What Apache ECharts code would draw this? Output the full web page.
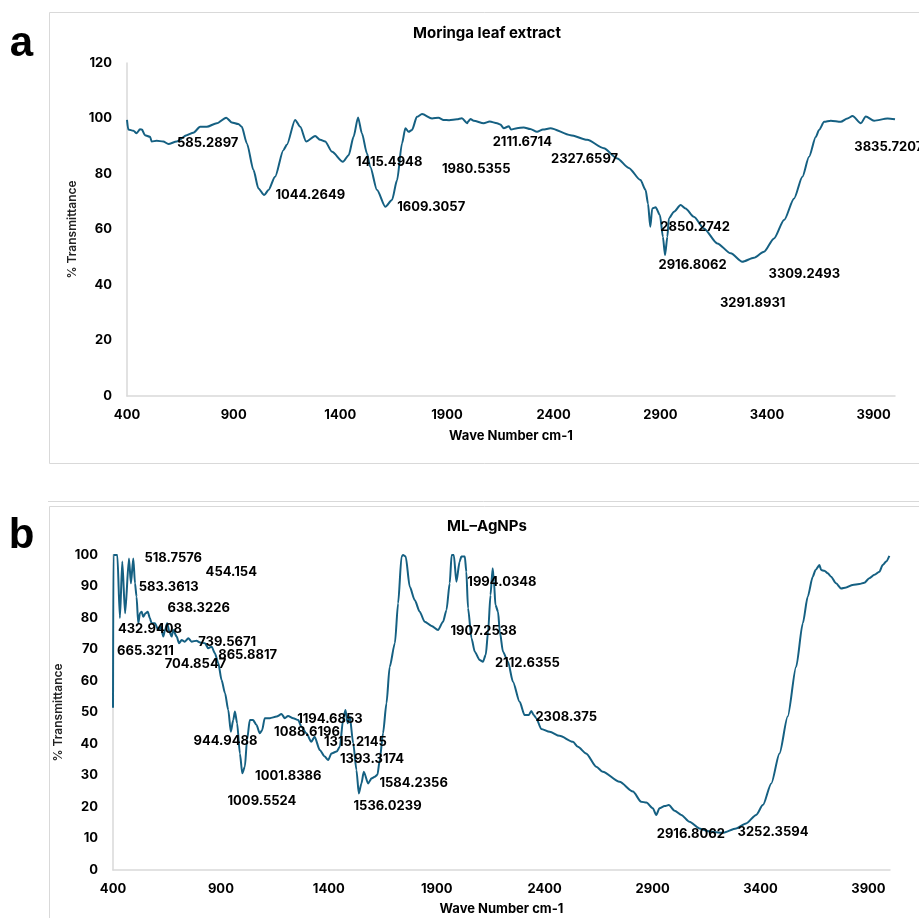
<!DOCTYPE html>
<html>
<head>
<meta charset="utf-8">
<script src="https://cdn.jsdelivr.net/npm/echarts@6/dist/echarts.min.js"></script>
<style>
html,body{margin:0;padding:0;background:#fff;}
#chart{width:919px;height:918px;}
</style>
</head>
<body>
<div id="chart"></div>
<script>
// ---------- DATA ----------
const xTicks = [400, 900, 1400, 1900, 2400, 2900, 3400, 3900];

// Panel a: Moringa leaf extract
const waveA = [400,406,430,445,461,470,484,508,516,539,570,594,633,680,711,743,774,821,865,891,922,938,962,993,1016,1043,1063,1094,1133,1149,1188,1212,1240,1282,1306,1329,1361,1412,1439,1462,1483,1501,1525,1540,1572,1611,1642,1666,1689,1705,1720,1736,1759,1783,1830,1860,1884,1910,1947,1970,1994,2000,2010,2025,2072,2100,2135,2150,2166,2190,2200,2228,2260,2290,2322,2350,2385,2479,2557,2635,2698,2752,2807,2831,2842,2853,2862,2878,2898,2912,2922,2933,2940,2964,2995,3018,3057,3104,3167,3230,3284,3339,3386,3433,3480,3527,3566,3597,3629,3644,3668,3699,3746,3777,3801,3840,3863,3902,3965,4000];
const transA = [99.5,96,95.6,94.7,96.1,96,94,93.4,91.7,92,91.7,90.8,91.7,94,94.9,97,97,98.3,100.3,98.6,98,97,91,81.4,74.8,72.4,74.2,79,88.6,90.5,99.5,97,91.7,93.7,92.3,91.7,88,84.4,86.8,93.4,100.4,94.7,87.4,82.6,74.2,68.2,70.6,77.8,91,96.5,95.2,95.9,100.6,101.6,100,100.3,99.5,99.4,99.7,100.1,98.3,99,99.8,99.2,98.3,98.9,98.3,97.8,96.5,97.2,96,96.5,96.8,96.2,95.2,96,96.5,94,92.3,89.3,85.6,82.2,77.8,74.2,69.4,61,67.6,68,65.2,57.4,50.8,57.4,64,66.4,68.8,67.6,64.6,60.4,55,51.4,48.4,49.8,52,56.8,63.4,71.2,79,86.2,93.4,95.9,98.8,99.2,98.8,100,100.9,98.3,100.7,99.2,100,99.7];
const peakTextA = ['585.2897','1044.2649','1415.4948','1609.3057','1980.5355','2111.6714','2327.6597','2850.2742','2916.8062','3309.2493','3291.8931','3835.7207'];
const peakAnchorWaveA = [778,1259,1629,1826,2037,2253,2545,3063,3051,3575,3333,3971];
const peakAnchorTransA = [91.1,72.4,84.2,68.2,81.7,91.4,85.4,61,47.2,43.9,33.4,89.8];

// Panel b: ML–AgNPs
const waveB = [400,402,420,432,443,456,474,483,494,502,509,517,525,533,540,551,561,571,579,594,610,622,633,641,651,661,672,679,695,706,718,733,749,764,787,803,826,841,857,872,888,903,919,934,946,957,965,975,988,999,1011,1021,1034,1049,1065,1080,1091,1103,1127,1158,1181,1196,1211,1235,1258,1273,1296,1319,1334,1358,1381,1397,1412,1436,1451,1466,1477,1487,1497,1513,1528,1539,1551,1562,1582,1598,1613,1625,1636,1651,1667,1682,1706,1721,1737,1744,1756,1775,1798,1821,1844,1876,1906,1929,1945,1960,1969,1979,1991,2006,2014,2030,2037,2045,2061,2076,2099,2114,2127,2138,2149,2159,2165,2172,2184,2192,2207,2230,2253,2284,2307,2327,2338,2349,2361,2384,2423,2469,2531,2554,2592,2639,2669,2747,2809,2847,2871,2901,2917,2932,2956,2975,3002,3033,3071,3117,3164,3225,3287,3333,3380,3411,3450,3488,3526,3565,3596,3619,3642,3655,3673,3681,3696,3712,3727,3750,3773,3797,3827,3858,3881,3904,3928,3951,3966,3982,3997];
const transB = [51.5,100,100,80,97.9,81.5,98.9,91,98.9,91,86.8,78.3,81.5,82,80.4,81.5,82,79.9,78.3,78.3,76.2,77.2,74.1,76.2,78.3,75.7,74.1,76.2,74.1,72,73,72.5,73.6,72.5,72.8,72.2,72,70.4,70.9,68.8,65.6,60.3,56.1,50.8,43.9,47.6,50.3,46.6,37,30.7,32.8,41.3,47.6,47.6,46,43.4,44.4,48.2,48.2,48.7,49.5,48.2,48.9,48.2,47.6,45.5,43.4,40.7,42.3,38.1,36,34.9,37,37.6,39.1,47.6,50.8,46.6,48.7,40.2,31.7,24.3,27.5,31.2,27.5,29.1,29.6,30.2,34.9,43.4,52.9,64.5,72,84.7,99.5,100,99.5,89.9,85.7,82,78.8,77.5,76.2,78.8,82.5,91,100,100,91.5,97.9,99.5,99.5,94.7,83.1,73.6,69.3,66.7,66.1,68.3,75.7,87.3,95.8,91.5,84.1,82,75.7,69.3,66.1,59.8,53.4,49.2,49.2,50.5,49.2,48.2,44.8,43.9,42.6,40.7,39.1,37,32.8,31.2,28,24.9,21.7,21.4,19.6,17.5,19.6,20.3,20.6,18.8,17.5,15.3,13.2,12.2,11.8,13.2,14.8,17.5,20.6,27.5,37,48.7,64.5,78.3,86.8,93.1,95.2,96.8,95.2,95,94.2,93.1,91,89.4,89.7,90.5,90.8,91.2,92.6,93.7,94.7,96.8,97.9,99.7];
const peakTextB = ['518.7576','454.154','583.3613','638.3226','432.9408','665.3211','739.5671','865.8817','704.8547','944.9488','1001.8386','1009.5524','1194.6853','1088.6196','1315.2145','1393.3174','1584.2356','1536.0239','1994.0348','1907.2538','2112.6355','2308.375','2916.8062','3252.3594'];
const peakAnchorWaveB = [679,948,658,797,571,550,929,1024,782,921,1212,1090,1405,1299,1523,1600,1793,1672,2202,2117,2320,2500,3077,3458];
const peakAnchorTransB = [99.1,94.7,89.9,83,76.5,69.5,72.3,68.3,65.4,41,29.8,22,47.9,43.7,40.5,35.1,27.5,20.3,91.5,75.9,65.6,48.7,11.3,12];

// ---------- CHART ----------
const FONT = 'Inter, "Noto Sans", sans-serif';
const LINE_COLOR = '#156082';
const AXIS_COLOR = '#d9d9d9';

function zip(xs, ys) { return xs.map((x, i) => [x, ys[i]]); }
function zip3(xs, ys, ts) { return xs.map((x, i) => [x, ys[i], ts[i]]); }

function xAxisCfg(gridIndex, gap) {
  return {
    gridIndex, type: 'value', min: 400, max: 4000,
    name: 'Wave Number cm-1', nameLocation: 'middle', nameGap: gap,
    nameTextStyle: { fontFamily: FONT, fontWeight: 'bold', fontSize: 13, color: '#000' },
    axisLine: { show: true, lineStyle: { color: AXIS_COLOR, width: 1.5 } },
    axisTick: { show: false },
    splitLine: { show: false },
    axisLabel: { customValues: xTicks, formatter: v => String(v), fontFamily: FONT, fontWeight: 'bold', fontSize: 13, color: '#000', margin: 13 }
  };
}
function yAxisCfg(gridIndex, max, interval, gap) {
  return {
    gridIndex, type: 'value', min: 0, max, interval,
    name: '% Transmittance', nameLocation: 'middle', nameGap: gap, nameRotate: 90,
    nameTextStyle: { fontFamily: FONT, fontWeight: 600, fontSize: 12, color: '#222' },
    axisLine: { show: true, lineStyle: { color: AXIS_COLOR, width: 1.5 } },
    axisTick: { show: false },
    splitLine: { show: false },
    axisLabel: { fontFamily: FONT, fontWeight: 'bold', fontSize: 13, color: '#000', margin: 15 }
  };
}
function labelSeries(idx, data) {
  return {
    type: 'scatter', xAxisIndex: idx, yAxisIndex: idx, data,
    symbolSize: 1, itemStyle: { color: 'rgba(0,0,0,0)' }, silent: true, clip: false,
    label: { show: true, position: 'inside', formatter: p => p.value[2],
      fontFamily: FONT, fontWeight: 'bold', fontSize: 13, color: '#000',
      textBorderWidth: 0, opacity: 1 },
    z: 5
  };
}

const chart = echarts.init(document.getElementById('chart'), null, { renderer: 'canvas' });
chart.setOption({
  animation: false,
  backgroundColor: '#fff',
  grid: [
    { left: 127, top: 63, width: 768, height: 333 },
    { left: 113, top: 555, width: 777, height: 315 }
  ],
  xAxis: [xAxisCfg(0, 34), xAxisCfg(1, 33)],
  yAxis: [yAxisCfg(0, 120, 20, 45), yAxisCfg(1, 100, 10, 47)],
  series: [
    { type: 'line', xAxisIndex: 0, yAxisIndex: 0, data: zip(waveA, transA), showSymbol: false, symbol: 'none',
      smooth: 0.25, smoothMonotone: 'x', lineStyle: { color: LINE_COLOR, width: 2 } },
    { type: 'line', xAxisIndex: 1, yAxisIndex: 1, data: zip(waveB, transB), showSymbol: false, symbol: 'none',
      smooth: 0.25, smoothMonotone: 'x', lineStyle: { color: LINE_COLOR, width: 2 } },
    labelSeries(0, zip3(peakAnchorWaveA, peakAnchorTransA, peakTextA)),
    labelSeries(1, zip3(peakAnchorWaveB, peakAnchorTransB, peakTextB))
  ],
  graphic: [
    { type: 'rect', shape: { x: 49.5, y: 12.5, width: 900, height: 451 }, style: { fill: 'none', stroke: AXIS_COLOR, lineWidth: 1 }, silent: true },
    { type: 'line', shape: { x1: 48, y1: 501.5, x2: 919, y2: 501.5 }, style: { stroke: AXIS_COLOR, lineWidth: 1 }, silent: true },
    { type: 'rect', shape: { x: 49.5, y: 506.5, width: 900, height: 500 }, style: { fill: 'none', stroke: AXIS_COLOR, lineWidth: 1 }, silent: true },
    { type: 'text', x: 487, y: 33, style: { text: 'Moringa leaf extract', font: 'bold 15px ' + FONT, fill: '#000', align: 'center', verticalAlign: 'middle' } },
    { type: 'text', x: 487, y: 526, style: { text: 'ML–AgNPs', font: 'bold 15px ' + FONT, fill: '#000', align: 'center', verticalAlign: 'middle' } },
    { type: 'text', x: 21.5, y: 44.5, style: { text: 'a', font: 'bold 42px "Liberation Sans", Arial, sans-serif', fill: '#000', align: 'center', verticalAlign: 'middle' } },
    { type: 'text', x: 21.5, y: 536.5, style: { text: 'b', font: 'bold 42px "Liberation Sans", Arial, sans-serif', fill: '#000', align: 'center', verticalAlign: 'middle' } }
  ]
});
</script>
</body>
</html>
